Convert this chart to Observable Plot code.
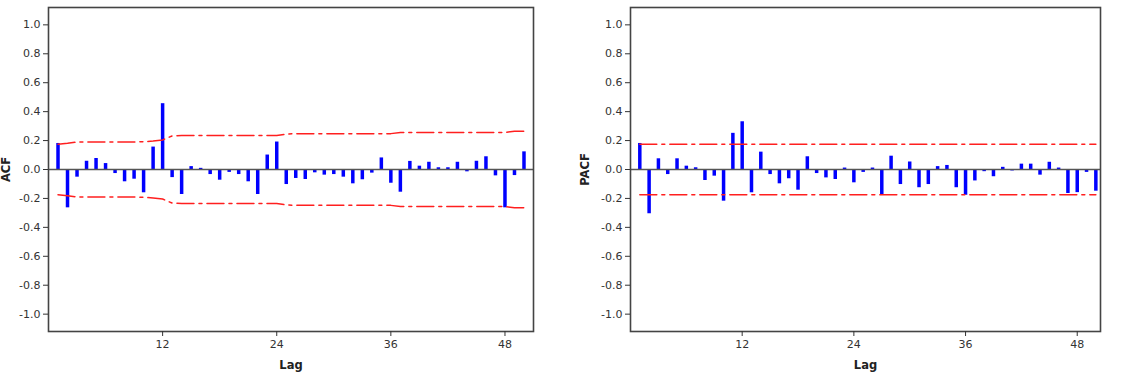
<!DOCTYPE html>
<html>
<head>
<meta charset="utf-8">
<script src="https://cdn.jsdelivr.net/npm/d3@7"></script>
<script src="https://cdn.jsdelivr.net/npm/@observablehq/plot@0.6"></script>
<style>
  html, body { margin: 0; padding: 0; background: #fff; }
  #wrap { position: relative; width: 1126px; height: 372px; overflow: hidden; }
  #acf { position: absolute; left: 0; top: 0; }
  #pacf { position: absolute; left: 563px; top: 0; }
  g[aria-label="x-axis label"] text, g[aria-label="y-axis label"] text { font-weight: bold; fill: #222; font-size: 11.5px; }
</style>
</head>
<body>
<div id="wrap"><div id="acf"></div><div id="pacf"></div></div>
<script>
// Lags 1..50
const lags = [1, 2, 3, 4, 5, 6, 7, 8, 9, 10, 11, 12, 13, 14, 15, 16, 17, 18, 19, 20,
  21, 22, 23, 24, 25, 26, 27, 28, 29, 30, 31, 32, 33, 34, 35, 36, 37, 38, 39, 40,
  41, 42, 43, 44, 45, 46, 47, 48, 49, 50];

// Autocorrelation by lag
const acfValues = [0.18, -0.265, -0.053, 0.057, 0.076, 0.041, -0.028, -0.085, -0.067, -0.161,
  0.155, 0.455, -0.056, -0.173, 0.02, 0.008, -0.035, -0.074, -0.02, -0.035,
  -0.085, -0.173, 0.1, 0.19, -0.104, -0.062, -0.069, -0.023, -0.039, -0.035,
  -0.053, -0.099, -0.071, -0.025, 0.08, -0.095, -0.157, 0.056, 0.023, 0.05,
  0.012, 0.012, 0.05, -0.016, 0.057, 0.088, -0.044, -0.265, -0.042, 0.122];

// 5% significance limits for the autocorrelations (±)
const acfLimits = [0.175, 0.181, 0.19, 0.19, 0.19, 0.19, 0.19, 0.19, 0.19, 0.192,
  0.197, 0.204, 0.232, 0.235, 0.235, 0.235, 0.235, 0.235, 0.235, 0.235,
  0.235, 0.235, 0.235, 0.235, 0.245, 0.248, 0.248, 0.248, 0.248, 0.248,
  0.248, 0.248, 0.248, 0.248, 0.248, 0.248, 0.255, 0.255, 0.255, 0.255,
  0.255, 0.255, 0.255, 0.255, 0.255, 0.255, 0.255, 0.256, 0.265, 0.265];

// Partial autocorrelation by lag
const pacfValues = [0.18, -0.306, 0.074, -0.035, 0.074, 0.023, 0.012, -0.076, -0.046, -0.219,
  0.25, 0.33, -0.161, 0.12, -0.035, -0.099, -0.064, -0.143, 0.088, -0.028,
  -0.058, -0.069, 0.01, -0.092, -0.02, 0.01, -0.178, 0.092, -0.104, 0.052,
  -0.126, -0.104, 0.02, 0.028, -0.126, -0.178, -0.079, -0.015, -0.05, 0.015,
  -0.01, 0.037, 0.037, -0.039, 0.05, 0.01, -0.166, -0.16, -0.02, -0.15];

// 5% significance limit for the partial autocorrelations (±)
const pacfLimit = 0.175;

const lagTicks = [12, 24, 36, 48];
const yTicks = [-1.0, -0.8, -0.6, -0.4, -0.2, 0.0, 0.2, 0.4, 0.6, 0.8, 1.0];

function correlogram({values, limits, label, marginLeft, marginRight, xMax, labelOffset}) {
  const rows = lags.map((lag, i) => ({lag, value: values[i], limit: limits[i]}));
  const band = {stroke: "#ff1f1f", strokeWidth: 1.5, strokeDasharray: "17,5,3,5"};
  return Plot.plot({
    width: 563,
    height: 372,
    marginLeft,
    marginRight,
    marginTop: 7,
    marginBottom: 41,
    style: {fontFamily: "'DejaVu Sans', Verdana, sans-serif", fontSize: "11px", color: "#333", background: "#fff"},
    x: {domain: [0, xMax]},
    y: {domain: [-1.12, 1.12]},
    marks: [
      Plot.ruleX(rows, {x: "lag", y1: 0, y2: "value", stroke: "#0000ff", strokeWidth: 3.5}),
      Plot.ruleY([0], {stroke: "#555", strokeWidth: 1.5}),
      Plot.line(rows, {x: "lag", y: "limit", ...band}),
      Plot.line(rows, {x: "lag", y: d => -d.limit, ...band}),
      Plot.frame({stroke: "#444", strokeWidth: 1.6}),
      Plot.axisX({ticks: lagTicks, tickSize: 5, tickPadding: 4, label: "Lag", labelArrow: false,
        labelAnchor: "center", labelOffset: 37}),
      Plot.axisY({ticks: yTicks, tickSize: 5, tickPadding: 3, tickFormat: d => d.toFixed(1),
        label, labelArrow: false, labelAnchor: "center", labelOffset})
    ]
  });
}

document.getElementById("acf").append(correlogram({
  values: acfValues, limits: acfLimits, label: "ACF", marginLeft: 48, marginRight: 30, xMax: 51, labelOffset: 47
}));
document.getElementById("pacf").append(correlogram({
  values: pacfValues, limits: lags.map(() => pacfLimit), label: "PACF", marginLeft: 67, marginRight: 26, xMax: 50.5, labelOffset: 50
}));
</script>
</body>
</html>
